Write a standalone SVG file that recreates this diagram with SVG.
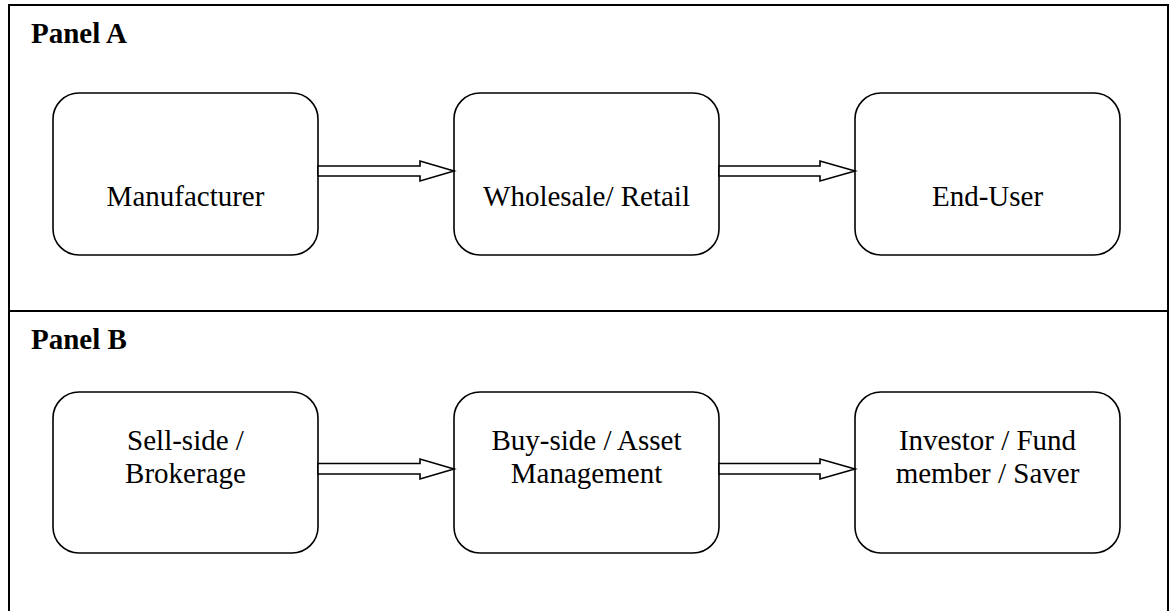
<svg xmlns="http://www.w3.org/2000/svg" width="1171" height="611" viewBox="0 0 1171 611">
  <style>
    .frame { fill: none; stroke: #000; stroke-width: 2; }
    .box { fill: #fff; stroke: #000; stroke-width: 1.6; }
    .arrow { fill: #fff; stroke: #000; stroke-width: 1.6; stroke-linejoin: miter; }
    .title { font-family: "Liberation Serif", "Times New Roman", serif; font-weight: bold; font-size: 29px; fill: #000; }
    .label { font-family: "Liberation Serif", "Times New Roman", serif; font-size: 29px; fill: #000; text-anchor: middle; }
  </style>
  <rect width="1171" height="611" fill="#fff"/>

  <!-- outer frame and panel divider -->
  <g id="frame">
    <rect class="frame" x="9" y="5" width="1159" height="630"/>
    <line class="frame" x1="9" y1="311" x2="1168" y2="311"/>
  </g>

  <text class="title" x="31" y="43">Panel A</text>
  <text class="title" x="31" y="349">Panel B</text>

  <!-- Panel A nodes -->
  <g id="manufacturer">
    <rect class="box" x="53" y="93" width="265" height="162" rx="26" ry="26"/>
    <text class="label" x="185.5" y="206">Manufacturer</text>
  </g>
  <g id="wholesale">
    <rect class="box" x="454" y="93" width="265" height="162" rx="26" ry="26"/>
    <text class="label" x="586.5" y="206">Wholesale/ Retail</text>
  </g>
  <g id="end-user">
    <rect class="box" x="855" y="93" width="265" height="162" rx="26" ry="26"/>
    <text class="label" x="987.5" y="206">End-User</text>
  </g>

  <!-- Panel B nodes -->
  <g id="sell-side">
    <rect class="box" x="53" y="392" width="265" height="161" rx="26" ry="26"/>
    <text class="label" x="185.5" y="450">Sell-side /</text>
    <text class="label" x="185.5" y="483">Brokerage</text>
  </g>
  <g id="buy-side">
    <rect class="box" x="454" y="392" width="265" height="161" rx="26" ry="26"/>
    <text class="label" x="586.5" y="450">Buy-side / Asset</text>
    <text class="label" x="586.5" y="483">Management</text>
  </g>
  <g id="investor">
    <rect class="box" x="855" y="392" width="265" height="161" rx="26" ry="26"/>
    <text class="label" x="987.5" y="450">Investor / Fund</text>
    <text class="label" x="987.5" y="483">member / Saver</text>
  </g>

  <!-- block arrows between nodes -->
  <g id="connectors">
    <polygon class="arrow" points="318,166 420,166 420,161 454,171 420,181 420,176 318,176"/>
    <polygon class="arrow" points="719,166 820,166 820,161 855,171 820,181 820,176 719,176"/>
    <polygon class="arrow" points="318,463.5 420,463.5 420,459 454,469 420,479 420,474 318,474"/>
    <polygon class="arrow" points="719,463.5 820,463.5 820,459 855,469 820,479 820,474 719,474"/>
  </g>
</svg>
